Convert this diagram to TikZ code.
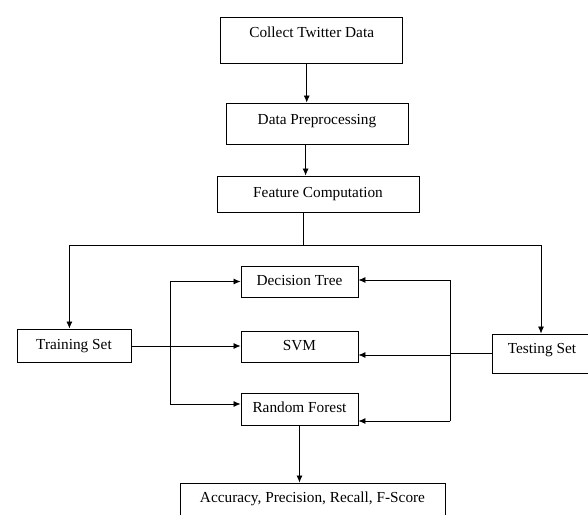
\documentclass[tikz,border=0pt]{standalone}
\usepackage{fontspec}
\setmainfont{Liberation Serif}
\usetikzlibrary{arrows.meta,calc}
\begin{document}
\begin{tikzpicture}[x=1pt,y=-1pt,
  box/.style={draw,line width=0.9pt,rectangle,inner sep=0pt,text height=11pt,text depth=3.5pt,font=\fontsize{15.3}{17}\selectfont},
  lift/.style={text depth=#1},
  conn/.style={line width=0.8pt},
  arr/.style={conn,-{Latex[length=7pt,width=6pt]}}]
\clip (0,0) rectangle (588,514);
\fill[white] (0,0) rectangle (588,514);
\node[box,lift=17pt,minimum width=182pt,minimum height=46pt] (collect) at (311.7,40) {Collect Twitter Data};
\node[box,lift=9pt,minimum width=182pt,minimum height=41pt] (pre) at (317,123.5) {Data Preprocessing};
\node[box,minimum width=202pt,minimum height=36pt] (feat) at (318,194) {Feature Computation};
\node[box,minimum width=114pt,minimum height=33pt] (train) at (74,345.5) {Training Set};
\node[box,lift=12pt,minimum width=100pt,minimum height=39pt] (test) at (542,353.5) {Testing Set};
\node[box,minimum width=117pt,minimum height=31pt] (dt) at (299.5,281.5) {Decision Tree};
\node[box,minimum width=117pt,minimum height=31pt] (svm) at (299.5,346.5) {SVM};
\node[box,minimum width=117pt,minimum height=32pt] (rf) at (299.5,409) {Random Forest};
\node[box,lift=9pt,minimum width=265pt,minimum height=37pt] (acc) at (312.5,501.5) {Accuracy, Precision, Recall, F-Score};
% top chain
\draw[arr] ([xshift=-5pt]collect.south) -- ([xshift=-5pt]collect.south |- pre.north);
\draw[arr] ([xshift=-11.4pt]pre.south) -- ([xshift=-11.4pt]pre.south |- feat.north);
% split
\coordinate (split) at ([xshift=-15pt]feat.south);
\coordinate (sj) at ($(split)+(0,33)$);
\draw[conn] (split) -- (sj);
\draw[arr] (sj) -| ([xshift=-4.6pt]train.north);
\draw[arr] (sj) -| ([xshift=-1pt]test.north);
% left bus
\coordinate (lb) at (170,346);
\coordinate (lbt) at (lb |- dt.west);
\coordinate (lbb) at ([yshift=5pt]lb |- rf.west);
\draw[arr] (train.east |- lb) -- (svm.west |- lb);
\draw[conn] (lbt) -- (lbb);
\draw[arr] (lbt) -- (dt.west);
\draw[arr] (lbb) -- (rf.west |- lbb);
% right bus
\coordinate (rb) at (450,353);
\coordinate (rbt) at ([yshift=1.5pt]rb |- dt.east);
\coordinate (rbm) at ([yshift=-8.5pt]rb |- svm.east);
\coordinate (rbb) at ([yshift=-12pt]rb |- rf.east);
\draw[conn] (test.west |- rb) -- (rb);
\draw[conn] (rbt) -- (rbb);
\draw[arr] (rbt) -- (dt.east |- rbt);
\draw[arr] (rbm) -- (svm.east |- rbm);
\draw[arr] (rbb) -- (rf.east |- rbb);
% final
\draw[arr] (rf.south) -- (rf.south |- acc.north);
\end{tikzpicture}
\end{document}
